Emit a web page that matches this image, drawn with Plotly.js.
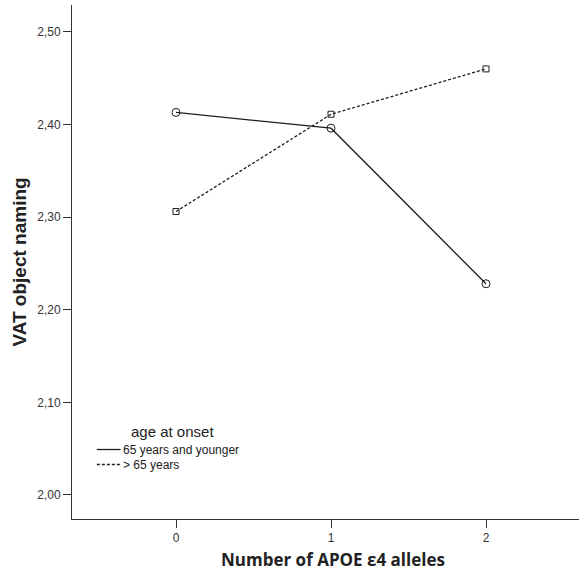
<!DOCTYPE html>
<html>
<head>
<meta charset="utf-8">
<script src="https://cdn.plot.ly/plotly-3.0.1.min.js"></script>
<style>
  html, body { margin: 0; padding: 0; background: #fff; }
  #chart { width: 579px; height: 571px; }
</style>
</head>
<body>
<div id="chart"></div>
<script>
// Number of APOE e4 alleles on the x axis
const alleles = [0, 1, 2];
// Mean VAT object naming score per onset-age group
const youngerOnset = [2.413, 2.396, 2.228];
const olderOnset = [2.306, 2.411, 2.460];
const groupNames = ['65 years and younger', '> 65 years'];
const legendTitle = 'age at onset';
const yTicks = [2.0, 2.1, 2.2, 2.3, 2.4, 2.5];
const xTicks = [0, 1, 2];

const ink = '#1e1e1e';
const sans = 'Liberation Sans, Arial, sans-serif';
const dashes = ['solid', '3px,2px'];

const traces = [
  {
    x: alleles, y: youngerOnset, name: groupNames[0],
    type: 'scatter', mode: 'lines+markers',
    line: { color: ink, width: 1.3, dash: dashes[0] },
    marker: { symbol: 'circle-open', size: 8, color: ink, line: { width: 1, color: ink } }
  },
  {
    x: alleles, y: olderOnset, name: groupNames[1],
    type: 'scatter', mode: 'lines+markers',
    line: { color: ink, width: 1.3, dash: dashes[1] },
    marker: { symbol: 'square-open', size: 6, color: ink, line: { width: 1, color: ink } }
  }
];

// Compact legend in the lower left of the plot: title, then a line sample and label per group
const legendLeft = 0.049, legendSampleEnd = 0.096, legendTextX = 0.099;
const legendRows = [0.1352, 0.1060];
const annotations = [
  { text: legendTitle, xref: 'paper', yref: 'paper', x: 0.199, y: 0.171,
    xanchor: 'center', yanchor: 'middle', showarrow: false, borderpad: 0,
    font: { family: sans, size: 15, color: '#222' } },
  // x axis title
  { text: 'Number of APOE ε4 alleles', xref: 'paper', yref: 'paper', x: 0.515, y: -0.079,
    xanchor: 'center', yanchor: 'middle', showarrow: false, borderpad: 0,
    font: { family: 'Open Sans, sans-serif', size: 17, color: '#222', weight: 'bold' } }
];
const shapes = [];
groupNames.forEach((name, i) => {
  annotations.push({ text: name, xref: 'paper', yref: 'paper', x: legendTextX, y: legendRows[i],
    xanchor: 'left', yanchor: 'middle', showarrow: false, borderpad: 0,
    font: { family: sans, size: 12, color: '#222' } });
  shapes.push({ type: 'line', xref: 'paper', yref: 'paper',
    x0: legendLeft, x1: legendSampleEnd, y0: legendRows[i], y1: legendRows[i],
    line: { color: ink, width: 1.3, dash: dashes[i] } });
});

const layout = {
  width: 579, height: 571,
  margin: { l: 72, r: 0, t: 5, b: 52 },
  paper_bgcolor: '#fff', plot_bgcolor: '#fff',
  separators: ',.',
  showlegend: false,
  annotations: annotations,
  shapes: shapes,
  xaxis: {
    range: [-0.671, 2.6],
    tickvals: xTicks,
    tickformat: 'd',
    color: '#333333',
    ticks: 'outside', ticklen: 8, tickwidth: 1, tickcolor: '#333',
    showline: true, linecolor: '#333', linewidth: 1,
    showgrid: false, zeroline: false,
    tickfont: { family: sans, size: 12, color: '#333333' }
  },
  yaxis: {
    range: [1.974, 2.529],
    tickvals: yTicks,
    tickformat: '.2f',
    color: '#333333',
    ticks: 'outside', ticklen: 8, tickwidth: 1, tickcolor: '#333',
    showline: true, linecolor: '#333', linewidth: 1,
    showgrid: false, zeroline: false,
    tickfont: { family: sans, size: 12, color: '#333333' },
    title: { text: 'VAT object naming', standoff: 5,
             font: { family: sans, size: 19, color: '#222', weight: 'bold' } }
  }
};

Plotly.newPlot('chart', traces, layout, { staticPlot: true, displayModeBar: false });
</script>
</body>
</html>
